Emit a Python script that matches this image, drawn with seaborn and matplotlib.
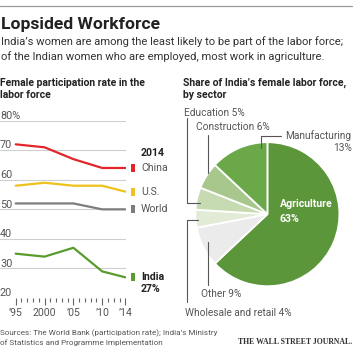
import matplotlib
matplotlib.use("Agg")
import matplotlib.pyplot as plt
from matplotlib.lines import Line2D
from matplotlib.patches import Rectangle
import seaborn as sns
import pandas as pd

# ---------------- data ----------------
years = [1995, 2000, 2005, 2010, 2014]
china = [72, 71, 67, 64, 64]
us = [58, 59, 58, 58, 56]
world = [52, 52, 52, 50, 50]
india = [35, 34, 37, 29, 27]
countries = ["China", "U.S.", "World", "India"]
country_colors = ["#e3262b", "#eec21b", "#7d7d7d", "#5a9b2e"]
y_ticks = [20, 30, 40, 50, 60, 70, 80]
y_tick_labels = ["20", "30", "40", "50", "60", "70", "80%"]
x_label_years = [1995, 2000, 2005, 2010, 2014]
x_tick_labels = ["\u201995", "2000", "\u201905", "\u201910", "\u201914"]
india_last_label = "27%"

sectors = ["Agriculture", "Other", "Wholesale and retail", "Education",
           "Construction", "Manufacturing"]
shares = [63, 9, 4, 5, 6, 13]
sector_colors = ["#5c963b", "#ebebeb", "#e1ebd6", "#c6dbb2", "#a7c78c", "#6aa84a"]

# ---------------- style ----------------
sns.set_theme(style="white")
plt.rcParams["font.family"] = ["Roboto", "DejaVu Sans"]

W, H = 355, 348
fig = plt.figure(figsize=(W / 100, H / 100), dpi=100)
fig.patch.set_facecolor("white")


def fx(px):
    return px / W


def fy(py):
    return 1 - py / H


def ftext(x, y, s, size, **kw):
    kw.setdefault("va", "center")
    fig.text(fx(x), fy(y), s, fontsize=size, **kw)


def fline(xs, ys, **kw):
    fig.add_artist(Line2D([fx(x) for x in xs], [fy(y) for y in ys],
                          transform=fig.transFigure, **kw))


DARK = "#222222"
GRAY = "#555555"

# header
fline([0, 352], [6, 6], color="#9a9a9a", lw=0.9)
ftext(1, 24.5, "Lopsided Workforce", 12.6, fontweight="bold", color=DARK)
ftext(1, 42, "India\u2019s women are among the least likely to be part of the labor force;",
      8.15, color="#333333")
ftext(1, 56.5, "of the Indian women who are employed, most work in agriculture.",
      8.15, color="#333333")

ftext(0, 83, "Female participation rate in the", 7.5, fontweight="bold", color=DARK)
ftext(0, 94.5, "labor force", 7.5, fontweight="bold", color=DARK)
ftext(183, 83, "Share of India\u2019s female labor force,", 7.5, fontweight="bold", color=DARK)
ftext(183, 94.5, "by sector", 7.5, fontweight="bold", color=DARK)

# ---------------- line chart ----------------
px_year = (125.3 - 15.7) / 19
x_lo = 1995 - 15.7 / px_year
x_hi = 1995 + (126 - 15.7) / px_year
ax = fig.add_axes([0, fy(298), fx(126), (298 - 120.7) / H])
ax.set_facecolor("none")

df = pd.DataFrame({
    "year": years * 4,
    "rate": china + us + world + india,
    "country": sum([[c] * len(years) for c in countries], []),
})
for v in y_ticks:
    ax.axhline(v, color="#cfcfcf", lw=0.8, zorder=0)
sns.lineplot(data=df, x="year", y="rate", hue="country",
             palette=dict(zip(countries, country_colors)),
             lw=1.6, legend=False, ax=ax, zorder=3)
ax.set_xlim(x_lo, x_hi)
ax.set_ylim(20, 80)
for s in ax.spines.values():
    s.set_visible(False)
ax.set_xlabel("")
ax.set_ylabel("")
ax.set_yticks([])
ax.set_xticks(x_label_years)
ax.set_xticklabels(x_tick_labels, fontsize=7.6, color=GRAY)
ax.set_xticks(list(range(1995, 2015)), minor=True)
ax.tick_params(axis="x", which="major", direction="out", length=5, width=0.8,
               color="#666666", pad=2.5, bottom=True)
ax.tick_params(axis="x", which="minor", direction="out", length=3, width=0.8,
               color="#666666", bottom=True)

for v, lab in zip(y_ticks, y_tick_labels):
    ax.annotate(lab, (x_lo, v), xytext=(0, 1.3), textcoords="offset points",
                ha="left", va="baseline", fontsize=7.8, color=GRAY)

# end markers & labels
ppu = (298 - 120.7) / 60
series = [china, us, world, india]
for name, col, vals in zip(countries, country_colors, series):
    last = vals[-1]
    ax.add_patch(Rectangle((2014 + 5.7 / px_year, last - 4 / ppu), 4 / px_year, 8 / ppu,
                           color=col, clip_on=False, lw=0))
    bold = name == "India"
    ax.annotate(name, (2014, last), xytext=(15.7 * 0.72, 0), textcoords="offset points",
                ha="left", va="center", fontsize=7.6,
                color=DARK if bold else GRAY, fontweight="bold" if bold else "normal",
                annotation_clip=False)
ax.annotate(india_last_label, (2014, india[-1]), xytext=(15.7 * 0.72, -12 * 0.72),
            textcoords="offset points", ha="left", va="center", fontsize=7.6,
            color=DARK, fontweight="bold", annotation_clip=False)
ax.annotate(str(years[-1]), (2014, china[-1]), xytext=(15.7 * 0.72, 15 * 0.72),
            textcoords="offset points", ha="left", va="center", fontsize=7.6,
            color=DARK, fontweight="bold", annotation_clip=False)

# ---------------- pie ----------------
cx, cy, r = 267.4, 214.2, 72
pax = fig.add_axes([fx(cx - r), fy(cy + r), 2 * r / W, 2 * r / H])
pax.pie(shares, colors=sector_colors, startangle=90, counterclock=False,
        radius=1, wedgeprops=dict(edgecolor="white", linewidth=1.3))
pax.set_xlim(-1, 1)
pax.set_ylim(-1, 1)
pax.axis("off")

lab = {s: f"{s} {v}%" for s, v in zip(sectors, shares)}
lc = dict(color="#555555", lw=0.8)
# Agriculture
ftext(280, 204, sectors[0], 7.6, fontweight="bold", color="white")
ftext(280, 219, f"{shares[0]}%", 7.6, fontweight="bold", color="white")
# Manufacturing
fline([281, 261, 261], [136, 136, 148], **lc)
ftext(351.5, 136, sectors[5], 7.3, ha="right", color=GRAY)
ftext(351.5, 148, f"{shares[5]}%", 7.3, ha="right", color=GRAY)
# Construction
fline([208, 208], [135, 173], **lc)
ftext(196.5, 127, lab["Construction"], 7.3, color=GRAY)
# Education
fline([187, 187, 200], [118, 203, 203], **lc)
ftext(184, 112.5, lab["Education"], 7.3, color=GRAY)
# Wholesale
fline([187, 187, 198], [302, 220, 220], **lc)
ftext(185, 313, lab["Wholesale and retail"], 7.3, color=GRAY)
# Other
fline([208, 208], [285, 242], **lc)
ftext(201, 294, lab["Other"], 7.3, color=GRAY)

# ---------------- footer ----------------
ftext(0, 333, "Sources: The World Bank (participation rate); India\u2019s Ministry", 5.85, color=GRAY)
ftext(0, 342.5, "of Statistics and Programme Implementation", 5.85, color=GRAY)
ftext(352.5, 342.5, "THE WALL STREET JOURNAL.", 5.6, ha="right", color="#333333",
      family="Liberation Serif", fontweight="bold")

fig.savefig("out.png", dpi=100, facecolor="white")
